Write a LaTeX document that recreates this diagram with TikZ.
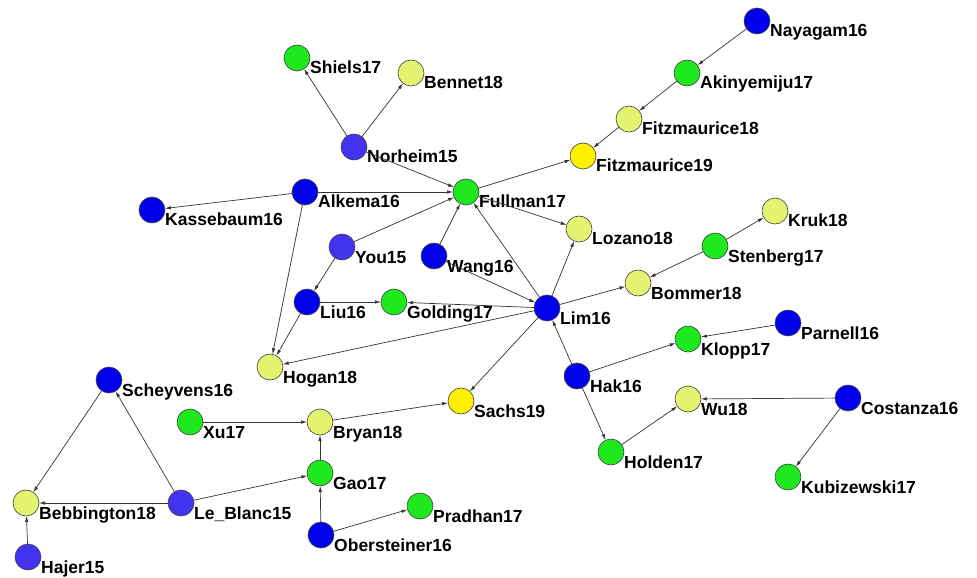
\documentclass[tikz,border=0pt]{standalone}
\usepackage{fontspec}
\setsansfont{Liberation Sans}
\usetikzlibrary{arrows.meta}
\definecolor{c15}{RGB}{68,51,238}
\definecolor{c16}{RGB}{0,0,235}
\definecolor{c17}{RGB}{30,232,30}
\definecolor{c18}{RGB}{228,244,112}
\definecolor{c19}{RGB}{255,240,0}
\newcommand{\lblfont}{\sffamily\bfseries\fontsize{17.5bp}{20bp}\selectfont}
\begin{document}
\begin{tikzpicture}[x=1bp,y=-1bp,
    vertex/.style={draw=black!75,line width=0.6bp,circle,minimum size=26bp,inner sep=0pt,outer sep=0pt},
    yr15/.style={vertex,fill=c15}, yr16/.style={vertex,fill=c16}, yr17/.style={vertex,fill=c17},
    yr18/.style={vertex,fill=c18}, yr19/.style={vertex,fill=c19},
    lbl/.style={anchor=base west,inner sep=0pt,yshift=-16bp,font=\lblfont},
    edge/.style={draw=black!80,line width=0.7bp,-{Latex[length=6bp,width=3.5bp]}}]
  \useasboundingbox (0,0) rectangle (977,578);

  % top chain
  \node[yr16] (nayagam)  at (757,21)  [label={[lbl]0:Nayagam16}] {};
  \node[yr17] (akinyemiju) at (687,73) [label={[lbl]0:Akinyemiju17}] {};
  \node[yr18] (fitz18)   at (629,119) [label={[lbl]0:Fitzmaurice18}] {};
  \node[yr19] (fitz19)   at (583,156) [label={[lbl]0:Fitzmaurice19}] {};

  % upper left cluster
  \node[yr17] (shiels)   at (297,58)  [label={[lbl]0:Shiels17}] {};
  \node[yr18] (bennet)   at (411,73)  [label={[lbl]0:Bennet18}] {};
  \node[yr15] (norheim)  at (354,147) [label={[lbl]0:Norheim15}] {};
  \node[yr17] (fullman)  at (466,192) [label={[lbl]0:Fullman17}] {};
  \node[yr16] (alkema)   at (305,192) [label={[lbl]0:Alkema16}] {};
  \node[yr16] (kassebaum) at (152,210) [label={[lbl]0:Kassebaum16}] {};
  \node[yr15] (you)      at (342,247) [label={[lbl]0:You15}] {};
  \node[yr16] (wang)     at (434,256) [label={[lbl]0:Wang16}] {};
  \node[yr16] (liu)      at (307,302) [label={[lbl]0:Liu16}] {};
  \node[yr17] (golding)  at (394,302) [label={[lbl]0:Golding17}] {};
  \node[yr18] (hogan)    at (270,367) [label={[lbl]0:Hogan18}] {};

  % right cluster
  \node[yr18] (lozano)   at (579,229) [label={[lbl]0:Lozano18}] {};
  \node[yr18] (kruk)     at (775,211) [label={[lbl]0:Kruk18}] {};
  \node[yr17] (stenberg) at (715,246) [label={[lbl]0:Stenberg17}] {};
  \node[yr18] (bommer)   at (638,283) [label={[lbl]0:Bommer18}] {};
  \node[yr16] (lim)      at (547,308) [label={[lbl]0:Lim16}] {};
  \node[yr16] (parnell)  at (788,323) [label={[lbl]0:Parnell16}] {};
  \node[yr17] (klopp)    at (688,339) [label={[lbl]0:Klopp17}] {};
  \node[yr16] (hak)      at (577,376) [label={[lbl]0:Hak16}] {};
  \node[yr18] (wu)       at (688,399) [label={[lbl]0:Wu18}] {};
  \node[yr16] (costanza) at (848,398) [label={[lbl]0:Costanza16}] {};
  \node[yr17] (holden)   at (611,452) [label={[lbl]0:Holden17}] {};
  \node[yr17] (kubizewski) at (788,477) [label={[lbl]0:Kubizewski17}] {};
  \node[yr19] (sachs)    at (461,401) [label={[lbl]0:Sachs19}] {};

  % lower left cluster
  \node[yr16] (scheyvens) at (109,380) [label={[lbl]0:Scheyvens16}] {};
  \node[yr17] (xu)       at (190,422) [label={[lbl]0:Xu17}] {};
  \node[yr18] (bryan)    at (320,422) [label={[lbl]0:Bryan18}] {};
  \node[yr17] (gao)      at (320,473) [label={[lbl]0:Gao17}] {};
  \node[yr18] (bebbington) at (26,503) [label={[lbl]0:Bebbington18}] {};
  \node[yr15] (leblanc)  at (181,503) [label={[lbl]0:Le\_Blanc15}] {};
  \node[yr17] (pradhan)  at (420,506) [label={[lbl]0:Pradhan17}] {};
  \node[yr16] (obersteiner) at (321,535) [label={[lbl]0:Obersteiner16}] {};
  \node[yr15] (hajer)    at (28,557)  [label={[lbl]0:Hajer15}] {};

  % citations
  \draw[edge] (nayagam) -- (akinyemiju);
  \draw[edge] (akinyemiju) -- (fitz18);
  \draw[edge] (fitz18) -- (fitz19);
  \draw[edge] (fullman) -- (fitz19);
  \draw[edge] (norheim) -- (shiels);
  \draw[edge] (norheim) -- (bennet);
  \draw[edge] (norheim) -- (fullman);
  \draw[edge] (alkema) -- (fullman);
  \draw[edge] (alkema) -- (kassebaum);
  \draw[edge] (alkema) -- (hogan);
  \draw[edge] (you) -- (fullman);
  \draw[edge] (you) -- (liu);
  \draw[edge] (wang) -- (fullman);
  \draw[edge] (wang) -- (lim);
  \draw[edge] (lim) -- (fullman);
  \draw[edge] (fullman) -- (lozano);
  \draw[edge] (lim) -- (lozano);
  \draw[edge] (lim) -- (bommer);
  \draw[edge] (stenberg) -- (bommer);
  \draw[edge] (stenberg) -- (kruk);
  \draw[edge] (liu) -- (golding);
  \draw[edge] (lim) -- (golding);
  \draw[edge] (liu) -- (hogan);
  \draw[edge] (lim) -- (hogan);
  \draw[edge] (lim) -- (sachs);
  \draw[edge] (hak) -- (lim);
  \draw[edge] (hak) -- (klopp);
  \draw[edge] (parnell) -- (klopp);
  \draw[edge] (hak) -- (holden);
  \draw[edge] (holden) -- (wu);
  \draw[edge] (costanza) -- (wu);
  \draw[edge] (costanza) -- (kubizewski);
  \draw[edge] (bryan) -- (sachs);
  \draw[edge] (xu) -- (bryan);
  \draw[edge] (gao) -- (bryan);
  \draw[edge] (obersteiner) -- (gao);
  \draw[edge] (obersteiner) -- (pradhan);
  \draw[edge] (leblanc) -- (gao);
  \draw[edge] (leblanc) -- (bebbington);
  \draw[edge] (leblanc) -- (scheyvens);
  \draw[edge] (scheyvens) -- (bebbington);
  \draw[edge] (hajer) -- (bebbington);
\end{tikzpicture}
\end{document}
